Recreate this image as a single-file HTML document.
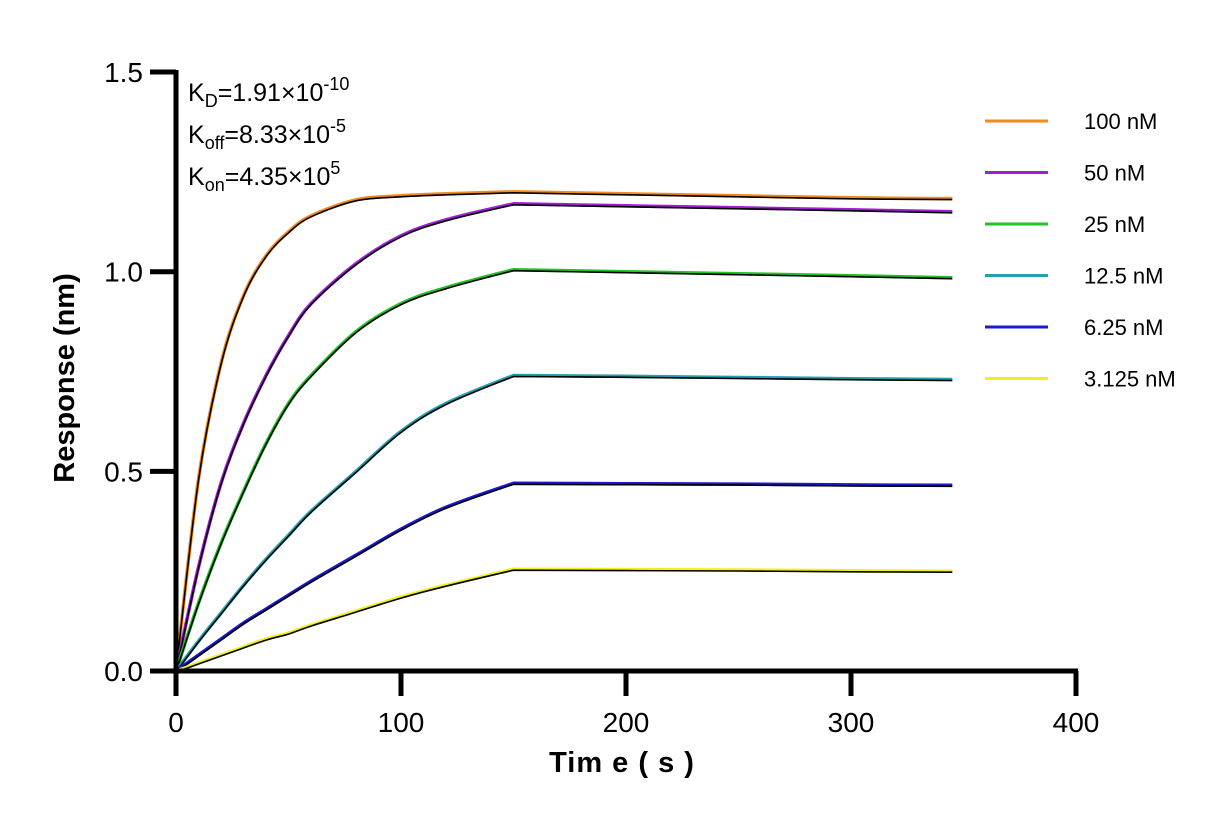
<!DOCTYPE html>
<html><head><meta charset="utf-8"><style>
body{margin:0;background:#fff;}
svg{display:block;font-family:"Liberation Sans",Arial,sans-serif;}
</style></head><body>
<svg id="chart" width="1231" height="825" viewBox="0 0 1231 825">
<g id="series"></g>
<g id="axes"></g>
<text x="188" y="101" font-size="25">K<tspan font-size="18" dy="6">D</tspan><tspan dy="-6">=1.91×10</tspan><tspan font-size="18" dy="-11">-10</tspan></text>
<text x="188" y="143" font-size="25">K<tspan font-size="18" dy="6">off</tspan><tspan dy="-6">=8.33×10</tspan><tspan font-size="18" dy="-11">-5</tspan></text>
<text x="188" y="185" font-size="25">K<tspan font-size="18" dy="6">on</tspan><tspan dy="-6">=4.35×10</tspan><tspan font-size="18" dy="-11">5</tspan></text>
<text transform="translate(74,378) rotate(-90)" text-anchor="middle" font-size="29" font-weight="bold">Response (nm)</text>
<text x="622" y="772" text-anchor="middle" font-size="29" font-weight="bold" letter-spacing="1">Tim e ( s )</text>
<g id="legend"></g>
</svg>
<script>
const times=[0,10,20,30,40,50,60,80,100,120,150,200,250,300,345];
const labels=["100 nM","50 nM","25 nM","12.5 nM","6.25 nM","3.125 nM"];
const colors=["#f28a1e","#a21ed6","#22c22a","#22a0b0","#1a1ad0","#f2f21a"];
const s100=[0,0.48,0.77,0.94,1.04,1.10,1.14,1.18,1.19,1.195,1.20,1.195,1.19,1.185,1.183];
const s50=[0,0.26,0.47,0.62,0.74,0.84,0.92,1.02,1.09,1.13,1.17,1.165,1.16,1.155,1.15];
const s25=[0,0.17,0.32,0.45,0.57,0.67,0.74,0.85,0.92,0.96,1.005,1.0,0.995,0.99,0.985];
const s12=[0,0.075,0.145,0.215,0.28,0.34,0.40,0.50,0.60,0.67,0.74,0.738,0.735,0.732,0.73];
const s6=[0,0.04,0.08,0.12,0.155,0.19,0.225,0.29,0.355,0.41,0.47,0.469,0.468,0.466,0.465];
const s3=[0,0.02,0.04,0.06,0.08,0.095,0.115,0.15,0.185,0.215,0.255,0.254,0.253,0.251,0.25];
const allSeries=[s100,s50,s25,s12,s6,s3];
const xTicks=[0,100,200,300,400];
const yTicks=[0,0.5,1.0,1.5];
const yTickLabels=["0.0","0.5","1.0","1.5"];
const NS="http://www.w3.org/2000/svg";
const X=t=>176+t*2.25;
const Y=v=>671-v*399.3;
function mk(tag,attrs,parent){const e=document.createElementNS(NS,tag);for(const k in attrs)e.setAttribute(k,attrs[k]);parent.appendChild(e);return e;}
function smooth(pts){
  let d='M'+pts[0][0].toFixed(1)+','+pts[0][1].toFixed(1);
  for(let i=0;i<pts.length-1;i++){
    const p0=pts[Math.max(0,i-1)],p1=pts[i],p2=pts[i+1],p3=pts[Math.min(pts.length-1,i+2)];
    // break smoothing at the association/dissociation switch
    const k1=(i===10)?0:1/6,k2=(i+1===10)?0:1/6;
    const c1=[p1[0]+(p2[0]-p0[0])*k1,p1[1]+(p2[1]-p0[1])*k1];
    const c2=[p2[0]-(p3[0]-p1[0])*k2,p2[1]-(p3[1]-p1[1])*k2];
    d+='C'+c1[0].toFixed(1)+','+c1[1].toFixed(1)+' '+c2[0].toFixed(1)+','+c2[1].toFixed(1)+' '+p2[0].toFixed(1)+','+p2[1].toFixed(1);
  }
  return d;
}
const sg=document.getElementById('series');
allSeries.forEach((s,i)=>{
  const d=smooth(s.map((v,j)=>[X(times[j]),Y(v)]));
  const p=mk('path',{d:d,fill:'none',stroke:colors[i],'stroke-width':3.5,'stroke-linejoin':'round'},sg);
  
  
  const f=mk('path',{d:d,fill:'none',stroke:'#000','stroke-width':1.6,'stroke-linejoin':'round',transform:'translate(0,1)'},sg);
  
  
});
const ag=document.getElementById('axes');
let a=mk('line',{x1:176,y1:70,x2:176,y2:673,stroke:'#000','stroke-width':5},ag);


a=mk('line',{x1:174,y1:671,x2:1078,y2:671,stroke:'#000','stroke-width':5},ag);


xTicks.forEach(t=>{
  const l=mk('line',{x1:X(t),y1:671,x2:X(t),y2:696,stroke:'#000','stroke-width':5},ag);
  
  
  const tx=mk('text',{x:X(t),y:732,'text-anchor':'middle','font-size':28},ag);
  tx.textContent=t;
  
  
});
yTicks.forEach((v,i)=>{
  const l=mk('line',{x1:150,y1:Y(v),x2:176,y2:Y(v),stroke:'#000','stroke-width':5},ag);
  
  
  const tx=mk('text',{x:143,y:Y(v)+10,'text-anchor':'end','font-size':28},ag);
  tx.textContent=yTickLabels[i];
  
  
});
const lg=document.getElementById('legend');
labels.forEach((lab,i)=>{
  const y=121+i*51.5;
  const g=mk('g',{},lg);
  
  
  mk('line',{x1:985,y1:y,x2:1048,y2:y,stroke:colors[i],'stroke-width':3},g);
  const tx=mk('text',{x:1084,y:y+8,'font-size':22},g);
  tx.textContent=lab;
});
</script>
</body></html>
